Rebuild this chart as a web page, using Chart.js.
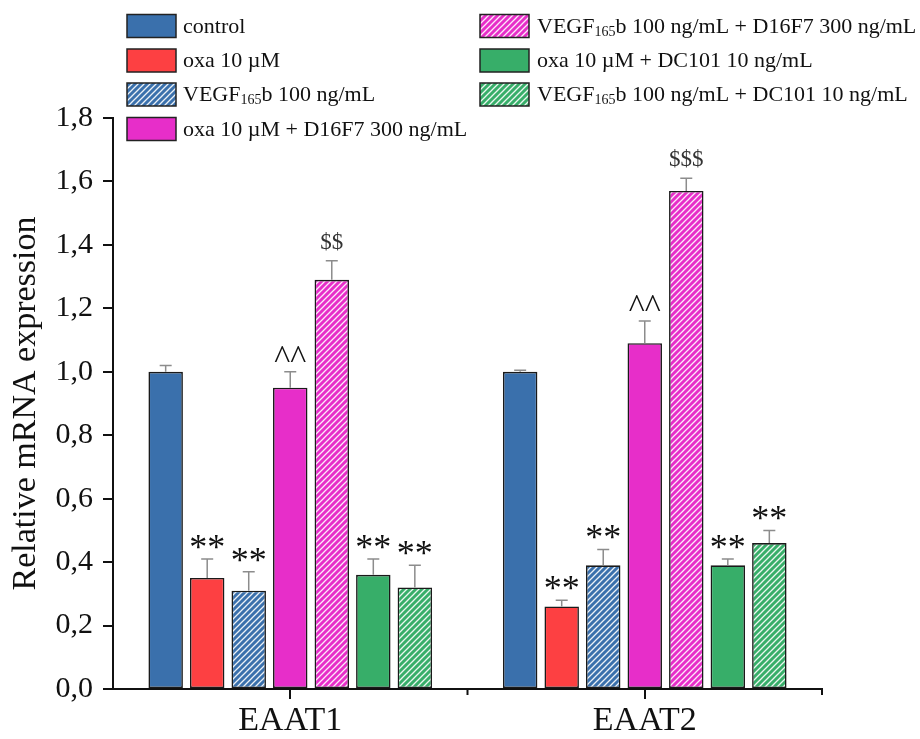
<!DOCTYPE html>
<html lang="en">
<head>
    <meta charset="UTF-8">
    <title>Relative mRNA expression</title>
    <style>
        html, body {
            margin: 0;
            padding: 0;
            background: #ffffff;
        }
        #wrap {
            width: 920px;
            height: 739px;
        }
    </style>
    <script src="https://cdn.jsdelivr.net/npm/chart.js"></script>
</head>
<body>
    <div id="wrap"><canvas id="barChart" width="920" height="739"></canvas></div>
    <script>
        // data
        const categories = ['EAAT1', 'EAAT2'];
        const seriesLabels = [
            'control',
            'oxa 10 µM',
            'VEGF_{165}b 100 ng/mL',
            'oxa 10 µM + D16F7 300 ng/mL',
            'VEGF_{165}b 100 ng/mL + D16F7 300 ng/mL',
            'oxa 10 µM + DC101 10 ng/mL',
            'VEGF_{165}b 100 ng/mL + DC101 10 ng/mL'
        ];
        const controlValues = [1.00, 1.00];
        const oxaValues = [0.35, 0.26];
        const vegfValues = [0.31, 0.39];
        const oxaD16Values = [0.95, 1.09];
        const vegfD16Values = [1.29, 1.57];
        const oxaDcValues = [0.36, 0.39];
        const vegfDcValues = [0.32, 0.46];

        // upper error (SD)
        const controlErr = [0.02, 0.005];
        const oxaErr = [0.06, 0.02];
        const vegfErr = [0.06, 0.05];
        const oxaD16Err = [0.05, 0.07];
        const vegfD16Err = [0.06, 0.04];
        const oxaDcErr = [0.05, 0.02];
        const vegfDcErr = [0.07, 0.04];

        // significance marks
        const controlMarks = ['', ''];
        const oxaMarks = ['**', '**'];
        const vegfMarks = ['**', '**'];
        const oxaD16Marks = ['^^', '^^'];
        const vegfD16Marks = ['$$', '$$$'];
        const oxaDcMarks = ['**', '**'];
        const vegfDcMarks = ['**', '**'];

        const yMin = 0;
        const yMax = 1.8;
        const yStep = 0.2;

        const serif = '"Liberation Serif", "Times New Roman", serif';

        function hatch(color) {
            const size = 6;
            const c = document.createElement('canvas');
            c.width = size;
            c.height = size;
            const g = c.getContext('2d');
            g.fillStyle = color;
            g.fillRect(0, 0, size, size);
            g.strokeStyle = 'rgba(255,255,255,0.9)';
            g.lineWidth = 1.3;
            g.beginPath();
            g.moveTo(0, size); g.lineTo(size, 0);
            g.moveTo(-size / 2, size / 2); g.lineTo(size / 2, -size / 2);
            g.moveTo(size / 2, size * 1.5); g.lineTo(size * 1.5, size / 2);
            g.stroke();
            return g.createPattern(c, 'repeat');
        }

        const blue = '#3a70ac';
        const red = '#fd4042';
        const magenta = '#e72ec9';
        const green = '#37ae69';

        const fills = [blue, red, hatch(blue), magenta, hatch(magenta), green, hatch(green)];
        const values = [controlValues, oxaValues, vegfValues, oxaD16Values, vegfD16Values, oxaDcValues, vegfDcValues];
        const errors = [controlErr, oxaErr, vegfErr, oxaD16Err, vegfD16Err, oxaDcErr, vegfDcErr];
        const marks = [controlMarks, oxaMarks, vegfMarks, oxaD16Marks, vegfD16Marks, oxaDcMarks, vegfDcMarks];

        // draw text with a {..} subscript part
        function drawRich(ctx, text, x, y, size) {
            const parts = text.split(/_\{(.*?)\}/);
            let cx = x;
            parts.forEach((p, i) => {
                if (!p) return;
                const sub = i % 2 === 1;
                ctx.font = (sub ? Math.round(size * 0.62) : size) + 'px ' + serif;
                ctx.fillText(p, cx, sub ? y + size * 0.22 : y);
                cx += ctx.measureText(p).width;
            });
        }

        const extras = {
            id: 'extras',
            afterDatasetsDraw(chart) {
                const ctx = chart.ctx;
                const y = chart.scales.y;
                ctx.save();
                values.forEach((vals, i) => {
                    const meta = chart.getDatasetMeta(i);
                    meta.data.forEach((bar, j) => {
                        const yBar = y.getPixelForValue(vals[j]);
                        const yTop = y.getPixelForValue(vals[j] + errors[i][j]);
                        ctx.strokeStyle = '#8c8c8c';
                        ctx.lineWidth = 1.5;
                        ctx.beginPath();
                        ctx.moveTo(bar.x, yBar);
                        ctx.lineTo(bar.x, yTop);
                        ctx.moveTo(bar.x - 6, yTop);
                        ctx.lineTo(bar.x + 6, yTop);
                        ctx.stroke();

                        const m = marks[i][j];
                        if (!m) return;
                        let size = 36, color = '#111';
                        if (m[0] === '^') size = 34;
                        if (m[0] === '$') { size = 23; color = '#333'; }
                        ctx.font = size + 'px ' + serif;
                        ctx.fillStyle = color;
                        ctx.textAlign = 'center';
                        ctx.textBaseline = 'alphabetic';
                        const tm = ctx.measureText(m);
                        const bottom = yTop - 10;
                        ctx.fillText(m, bar.x, bottom - tm.actualBoundingBoxDescent);
                    });
                });
                ctx.restore();
            },
            afterDraw(chart) {
                const ctx = chart.ctx;
                const x = chart.scales.x;
                const area = chart.chartArea;
                ctx.save();
                // boundary ticks on the x axis
                ctx.strokeStyle = '#111';
                ctx.lineWidth = 2;
                const mid = (x.getPixelForValue(0) + x.getPixelForValue(1)) / 2;
                [mid, area.right].forEach(px => {
                    ctx.beginPath();
                    ctx.moveTo(px, area.bottom);
                    ctx.lineTo(px, area.bottom + 6);
                    ctx.stroke();
                });

                // legend
                const rows = [26, 60.5, 94.5, 129];
                const cols = [
                    { box: 127, text: 183, items: [0, 1, 2, 3] },
                    { box: 480, text: 537, items: [4, 5, 6] }
                ];
                ctx.textAlign = 'left';
                ctx.textBaseline = 'middle';
                cols.forEach(col => {
                    col.items.forEach((idx, r) => {
                        const cy = rows[r];
                        ctx.fillStyle = fills[idx];
                        ctx.fillRect(col.box, cy - 11.5, 49, 23);
                        ctx.strokeStyle = '#222';
                        ctx.lineWidth = 1.5;
                        ctx.strokeRect(col.box, cy - 11.5, 49, 23);
                        ctx.fillStyle = '#111';
                        drawRich(ctx, seriesLabels[idx], col.text, cy + 1, 22);
                    });
                });
                ctx.restore();
            }
        };

        const datasets = values.map((vals, i) => ({
            label: seriesLabels[i].replace(/_\{(.*?)\}/, '$1'),
            data: vals,
            backgroundColor: fills[i],
            borderColor: '#1a1a1a',
            borderWidth: 1.6,
            borderSkipped: false,
            categoryPercentage: 0.82,
            barPercentage: 0.83
        }));

        new Chart(document.getElementById('barChart').getContext('2d'), {
            type: 'bar',
            data: { labels: categories, datasets: datasets },
            options: {
                responsive: false,
                animation: false,
                events: [],
                layout: { padding: { top: 118, right: 98, left: 0, bottom: 0 } },
                plugins: {
                    legend: { display: false },
                    tooltip: { enabled: false }
                },
                scales: {
                    x: {
                        offset: true,
                        grid: {
                            offset: false,
                            drawOnChartArea: false,
                            color: '#111',
                            lineWidth: 2,
                            tickLength: 10
                        },
                        border: { color: '#111', width: 2 },
                        ticks: {
                            color: '#111',
                            font: { family: serif, size: 34 },
                            padding: 2
                        },
                        afterFit: s => { s.height = 50; }
                    },
                    y: {
                        min: yMin,
                        max: yMax,
                        ticks: {
                            stepSize: yStep,
                            color: '#111',
                            font: { family: serif, size: 30 },
                            padding: 10,
                            callback: v => v.toFixed(1).replace('.', ',')
                        },
                        grid: {
                            drawOnChartArea: false,
                            color: '#111',
                            lineWidth: 2,
                            tickLength: 10
                        },
                        border: { color: '#111', width: 2 },
                        title: {
                            display: true,
                            text: 'Relative mRNA expression',
                            color: '#111',
                            font: { family: serif, size: 34 },
                            padding: { top: 6, bottom: 0 }
                        },
                        afterFit: s => { s.width = 113; }
                    }
                }
            },
            plugins: [extras]
        });
    </script>
</body>
</html>
